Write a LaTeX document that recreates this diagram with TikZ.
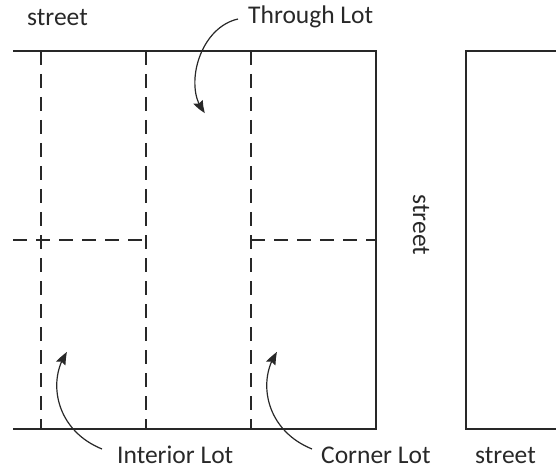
\documentclass[tikz,border=0pt]{standalone}
\usepackage{fontspec}
\setmainfont{Carlito}
\usetikzlibrary{arrows.meta,bending}
\definecolor{ink}{RGB}{40,40,40}
\begin{document}
\begin{tikzpicture}[x=1pt,y=-1pt,
  solidline/.style={draw=ink,line width=1.5pt},
  lotline/.style={draw=ink,line width=1.2pt,dash pattern=on 14pt off 9pt},
  lbl/.style={inner sep=0pt,anchor=base west,text=ink,font=\fontsize{25.5}{30}\selectfont},
  callout/.style={draw=ink,line width=1.2pt,-{Stealth[length=13pt,width=10pt,inset=2pt,bend]}}]
\useasboundingbox (0,0) rectangle (556,470);
% block outlines
\draw[solidline] (13,51) -- (376,51) -- (376,429) -- (13,429);
\draw[solidline] (556,51) -- (466,51) -- (466,429) -- (556,429);
% lot lines
\draw[lotline] (41,51) -- (41,429);
\draw[lotline] (146,51) -- (146,429);
\draw[lotline] (251,51) -- (251,429);
\draw[lotline] (13,240) -- (146,240);
\draw[lotline] (251,240) -- (376,240);
% labels
\node[lbl] (stTop) at (27,26) {street};
\node[lbl] (through) at (248,24) {Through Lot};
\node[lbl] (interior) at (117,463) {Interior Lot};
\node[lbl] (corner) at (321,463) {Corner Lot};
\node[lbl] (stBot) at (475,463) {street};
\node[inner sep=0pt,text=ink,font=\fontsize{25.5}{30}\selectfont,rotate=-90] (stSide) at (421,225) {street};
% callout ends
\coordinate (thS) at (238,19);
\coordinate (thT) at (205,113);
\coordinate (inS) at (102,449);
\coordinate (inT) at (67,352);
\coordinate (coS) at (312,449);
\coordinate (coT) at (277,352);
\draw[callout] (thS) .. controls (198,28) and (183,90) .. (thT);
\draw[callout] (inS) .. controls (55,430) and (47,380) .. (inT);
\draw[callout] (coS) .. controls (265,430) and (257,380) .. (coT);
\end{tikzpicture}
\end{document}
